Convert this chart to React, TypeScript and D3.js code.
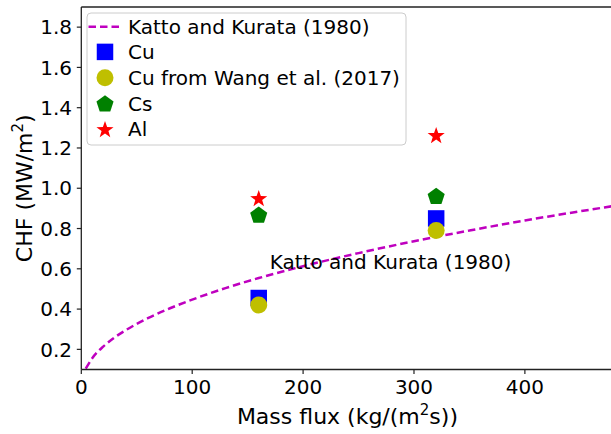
import React from "react";
import * as d3 from "d3";

const curveX = [4, 10, 20, 30, 40, 60, 80, 100, 130, 160, 200, 250, 300, 350, 400, 480];
const curveY = [0.104, 0.157, 0.215, 0.259, 0.295, 0.355, 0.404, 0.447, 0.504, 0.554, 0.613, 0.678, 0.737, 0.79, 0.84, 0.912];

const massFlux = [160, 320];
const cuValues = [0.455, 0.85];
const wangValues = [0.42, 0.79];
const csValues = [0.87, 0.963];
const alValues = [0.952, 1.265];

const xTicks = [0, 100, 200, 300, 400];
const yTicks = [0.2, 0.4, 0.6, 0.8, 1.0, 1.2, 1.4, 1.6, 1.8];

const legendLabels = ["Katto and Kurata (1980)", "Cu", "Cu from Wang et al. (2017)", "Cs", "Al"];

const W = 611;
const H = 434;
const FONT = "DejaVu Sans, sans-serif";

export default function App() {
  const x = d3.scaleLinear().domain([0, 480]).range([81.3, 613.6]);
  const y = d3.scaleLinear().domain([0.1, 1.9]).range([369.5, 7]);
  const left = x(0);
  const bottom = y(0.1);
  const top = y(1.9);
  const right = x(480);

  const line = d3
    .line<number>()
    .x((_, i) => x(curveX[i]))
    .y((d) => y(d))
    .curve(d3.curveMonotoneX);

  const sq = 16.5;
  const circR = 8.5;
  const pent = d3.symbol().type(d3.symbolPentagon ?? d3.symbolSquare);
  const pentagonPath = (cx: number, cy: number, r: number) => {
    const pts = d3.range(5).map((k) => {
      const a = -Math.PI / 2 + (k * 2 * Math.PI) / 5;
      return [cx + r * Math.cos(a), cy + r * Math.sin(a)];
    });
    return "M" + pts.map((p) => p.join(",")).join("L") + "Z";
  };
  const starPath = (cx: number, cy: number, r: number) => {
    const ri = r * 0.4;
    const pts = d3.range(10).map((k) => {
      const a = -Math.PI / 2 + (k * Math.PI) / 5;
      const rr = k % 2 === 0 ? r : ri;
      return [cx + rr * Math.cos(a), cy + rr * Math.sin(a)];
    });
    return "M" + pts.map((p) => p.join(",")).join("L") + "Z";
  };
  void pent;

  const colMag = "#bf00bf";
  const colBlue = "#0000ff";
  const colY = "#bfbf00";
  const colG = "#008000";
  const colR = "#ff0000";

  const legRows = [26.7, 51.9, 77.7, 103.3, 129];
  const legMX = 105;

  return (
    <svg width={W} height={H} style={{ position: "absolute", left: 0, top: 0 }} fontFamily={FONT}>
      <rect x={0} y={0} width={W} height={H} fill="#fff" />
      <defs>
        <clipPath id="plotclip">
          <rect x={left} y={top} width={right - left} height={bottom - top} />
        </clipPath>
      </defs>

      <g clipPath="url(#plotclip)">
        <path d={line(curveY) || ""} fill="none" stroke={colMag} strokeWidth={2.5} strokeDasharray="7.5,4" />
        {massFlux.map((m, i) => (
          <rect key={"cu" + i} x={x(m) - sq / 2} y={y(cuValues[i]) - sq / 2} width={sq} height={sq} fill={colBlue} />
        ))}
        {massFlux.map((m, i) => (
          <circle key={"w" + i} cx={x(m)} cy={y(wangValues[i])} r={circR} fill={colY} />
        ))}
        {massFlux.map((m, i) => (
          <path key={"cs" + i} d={pentagonPath(x(m), y(csValues[i]) + 1, 9)} fill={colG} />
        ))}
        {massFlux.map((m, i) => (
          <path key={"al" + i} d={starPath(x(m), y(alValues[i]) + 1, 9)} fill={colR} />
        ))}
      </g>

      <text x={x(170)} y={y(0.6)} fontSize={20} fill="#000">
        Katto and Kurata (1980)
      </text>

      {/* spines */}
      <g stroke="#222" strokeWidth={1.3} fill="none">
        <line x1={left} y1={top} x2={left} y2={bottom} />
        <line x1={left} y1={bottom} x2={right} y2={bottom} />
        <line x1={left} y1={top} x2={right} y2={top} />
      </g>

      {/* x ticks */}
      {xTicks.map((t) => (
        <g key={"xt" + t}>
          <line x1={x(t)} x2={x(t)} y1={bottom} y2={bottom + 4.5} stroke="#222" strokeWidth={1.2} />
          <text x={x(t)} y={394} textAnchor="middle" fontSize={20} fill="#000">
            {t}
          </text>
        </g>
      ))}
      {/* y ticks */}
      {yTicks.map((t) => (
        <g key={"yt" + t}>
          <line x1={left - 4.5} x2={left} y1={y(t)} y2={y(t)} stroke="#222" strokeWidth={1.2} />
          <text x={72} y={y(t) + 7.2} textAnchor="end" fontSize={20} fill="#000">
            {t.toFixed(1)}
          </text>
        </g>
      ))}

      {/* axis labels */}
      <text x={(left + right) / 2} y={424} textAnchor="middle" fontSize={22} fill="#000">
        Mass flux (kg/(m<tspan baselineShift="super" fontSize={15}>2</tspan>s))
      </text>
      <text
        transform={`translate(32,${(top + bottom) / 2}) rotate(-90)`}
        textAnchor="middle"
        fontSize={22}
        fill="#000"
      >
        CHF (MW/m<tspan baselineShift="super" fontSize={15}>2</tspan>)
      </text>

      {/* legend */}
      <rect x={87} y={13} width={319} height={132} rx={4} ry={4} fill="#fff" fillOpacity={0.8} stroke="#cccccc" strokeWidth={1} />
      <line x1={88.5} x2={119} y1={legRows[0]} y2={legRows[0]} stroke={colMag} strokeWidth={2.5} strokeDasharray="7.5,4" />
      <rect x={legMX - sq / 2} y={legRows[1] - sq / 2} width={sq} height={sq} fill={colBlue} />
      <circle cx={legMX} cy={legRows[2]} r={circR} fill={colY} />
      <path d={pentagonPath(legMX, legRows[3] + 1, 9)} fill={colG} />
      <path d={starPath(legMX, legRows[4] + 1, 9)} fill={colR} />
      {legendLabels.map((l, i) => (
        <text key={l} x={128} y={legRows[i] + 7.2} fontSize={20} fill="#000">
          {l}
        </text>
      ))}
    </svg>
  );
}
